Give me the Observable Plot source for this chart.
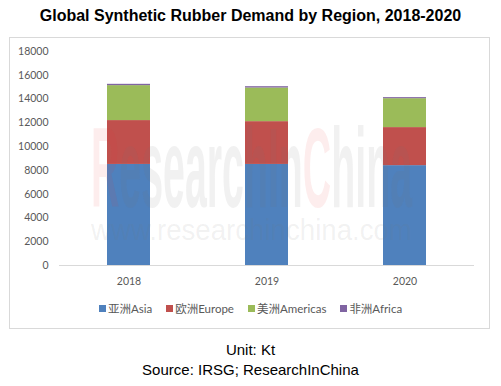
<!DOCTYPE html>
<html>
<head>
<meta charset="utf-8">
<script src="https://cdn.jsdelivr.net/npm/d3@7"></script>
<script src="https://cdn.jsdelivr.net/npm/@observablehq/plot@0.6"></script>
<style>
  html, body { margin: 0; padding: 0; background: #fff; }
  #wrap { position: relative; width: 501px; height: 386px; background: #fff; overflow: hidden; }
  #title { position: absolute; left: 0; width: 501px; top: 7px; text-align: center;
    font: bold 16px "Liberation Sans", Arial, sans-serif; color: #000; }
  #box { position: absolute; left: 9px; top: 37px; width: 479px; height: 290px; border: 1px solid #d9d9d9; }
  #chart { position: absolute; left: 0; top: 0; }
  #wm { position: absolute; left: 0; top: 0; pointer-events: none; }
  #legend { position: absolute; left: 0; width: 501px; top: 300px; display: flex; justify-content: center;
    font: 11.5px Lato, "Noto Sans CJK SC", sans-serif; color: #595959; }
  .item { display: flex; align-items: center; margin: 0 7px; }
  .sw { width: 7px; height: 7px; margin-right: 2px; }
  .foot { position: absolute; left: 0; width: 501px; text-align: center;
    font: 15px "Liberation Sans", Arial, sans-serif; color: #000; }
</style>
</head>
<body>
<div id="wrap">
  <div id="title">Global Synthetic Rubber Demand by Region, 2018-2020</div>
  <div id="box"></div>
  <div id="chart"></div>
  <div id="legend"></div>
  <div class="foot" style="top:341px">Unit: Kt</div>
  <div class="foot" style="top:361px">Source: IRSG; ResearchInChina</div>
</div>
<script>
const years = ["2018", "2019", "2020"];
const regions = ["亚洲Asia", "欧洲Europe", "美洲Americas", "非洲Africa"];
const colors = ["#4F81BD", "#C0504D", "#9BBB59", "#8064A2"];
const asia = [8500, 8500, 8400];
const europe = [3690, 3600, 3200];
const americas = [2940, 2830, 2430];
const africa = [110, 110, 90];
const yTicks = [0, 2000, 4000, 6000, 8000, 10000, 12000, 14000, 16000, 18000];

const series = [asia, europe, americas, africa];
const data = [];
regions.forEach((r, i) => years.forEach((y, j) => data.push({year: y, region: r, value: series[i][j]})));

const chart = Plot.plot({
  width: 501,
  height: 300,
  marginLeft: 59,
  marginRight: 27,
  marginTop: 51,
  marginBottom: 35,
  style: {background: "transparent", fontFamily: "Lato, sans-serif", fontSize: "10.5px", color: "#595959"},
  x: {domain: years, paddingInner: 0.689, paddingOuter: 0.3445, align: 0.5, label: null},
  y: {domain: [0, 18000], label: null},
  color: {domain: regions, range: colors},
  marks: [
    Plot.axisY({ticks: yTicks, tickSize: 0, tickPadding: 11, tickFormat: d => String(d), label: null}),
    Plot.axisX({tickSize: 0, tickPadding: 12, label: null}),
    Plot.barY(data, {x: "year", y: "value", fill: "region", order: regions}),
    Plot.ruleY([0], {stroke: "#d9d9d9"})
  ]
});
document.getElementById("chart").appendChild(chart);

// faint watermark overlay, condensed by a group transform
const wm = d3.select("#wrap").append("svg").attr("id", "wm").attr("width", 501).attr("height", 386);
function watermark(parts, x, y, w, font) {
  const g = wm.append("g");
  let off = 0;
  const nodes = parts.map(([txt, fill]) => {
    const t = g.append("text").attr("x", off).attr("y", 0).style("font", font).attr("fill", fill).text(txt);
    const len = t.node().getComputedTextLength();
    t.attr("x", off);
    off += len;
    return t;
  });
  g.attr("transform", `translate(${x},${y}) scale(${w / off},1)`);
}
const gray = "rgba(120,120,120,0.10)", pink = "rgba(230,60,60,0.09)";
watermark([["R", pink], ["esearchIn", gray], ["C", pink], ["hina", gray]], 91, 207, 321,
  "bold 114px 'Liberation Sans', Arial, sans-serif");
watermark([["www.researchinchina.com", gray]], 91, 240, 321, "29px 'Liberation Sans', Arial, sans-serif");

// legend
const leg = d3.select("#legend");
regions.forEach((r, i) => {
  const it = leg.append("div").attr("class", "item");
  it.append("div").attr("class", "sw").style("background", colors[i]);
  it.append("span").text(r);
});
</script>
</body>
</html>
